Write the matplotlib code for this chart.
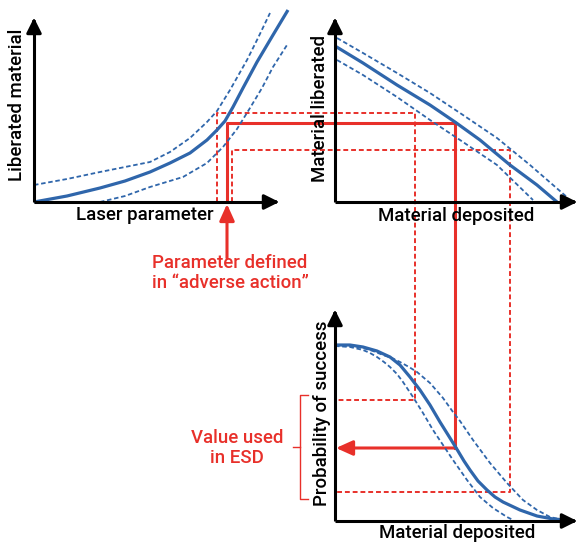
import numpy as np
import matplotlib
matplotlib.use("Agg")
import matplotlib.pyplot as plt

plt.rcParams['font.family'] = ['Roboto', 'DejaVu Sans']

BLUE = '#2f66ab'
RED = '#e8302a'

# curves in pixel coords (x, y down)
p1_mid_x = [34, 67, 100, 125, 150, 170, 190, 207, 217, 225, 233, 243, 257, 273, 288]
p1_mid_y = [202, 196, 188, 181, 172, 163, 153, 140, 130, 121, 107, 88, 62, 35, 10]
p1_up_x = [34, 67, 100, 125, 150, 170, 190, 207, 217, 230, 247, 258, 270]
p1_up_y = [185, 179, 172, 167, 162, 152, 138, 122, 111, 90, 60, 38, 13]
p1_lo_x = [100, 125, 150, 183, 207, 223, 237, 250, 262, 273, 287]
p1_lo_y = [202, 196, 187, 177, 163, 147, 129, 108, 88, 67, 45]

p2_mid_x = [335, 363, 397, 430, 455, 480, 510, 537, 557]
p2_mid_y = [46, 63, 85, 105, 122, 140, 165, 185, 202]
p2_up_x = [337, 363, 397, 430, 463, 497, 530, 568]
p2_up_y = [38, 53, 73, 93, 115, 138, 165, 198]
p2_lo_x = [337, 363, 397, 430, 463, 497, 533]
p2_lo_y = [60, 75, 97, 120, 142, 165, 200]

p3_mid_x = [335, 350, 363, 377, 390, 400, 410, 420, 430, 440, 450, 458, 464, 470, 478, 487, 495, 503, 520, 537, 553, 567]
p3_mid_y = [345, 345, 347, 351, 357, 365, 377, 390, 405, 422, 438, 451, 461, 470, 481, 490, 497, 502, 510, 516, 519, 520]
p3_up_x = [335, 350, 363, 373, 383, 392, 400, 409, 417, 430, 443, 453, 460, 473, 490, 507, 523, 537, 550, 563]
p3_up_y = [345, 346, 348, 351, 355, 358, 362, 367, 372, 383, 398, 412, 421, 440, 463, 483, 500, 510, 517, 520]
p3_lo_x = [335, 350, 363, 370, 377, 384, 390, 397, 403, 413, 423, 433, 443, 453, 467, 480, 493, 507, 513]
p3_lo_y = [346, 347, 350, 353, 357, 362, 367, 374, 382, 397, 413, 430, 445, 460, 480, 497, 508, 517, 520]

# red guide lines
param_x = [217, 227, 232]          # lower bound, value, upper bound
liberated_y = [113, 123, 150]
deposit_x = [415, 455, 510]
success_y = [400, 448, 492]

fig = plt.figure(figsize=(5.82, 5.44), dpi=100)
ax = fig.add_axes([0, 0, 1, 1])
ax.set_xlim(0, 582)
ax.set_ylim(544, 0)
ax.axis('off')

def axes_arrows(x0, y0, ytop, xright):
    ax.plot([x0, x0], [y0, ytop + 10], color='black', lw=2.2, solid_capstyle='butt', zorder=5)
    ax.plot([x0, xright - 10], [y0, y0], color='black', lw=2.2, solid_capstyle='butt', zorder=5)
    ax.annotate('', xy=(x0, ytop), xytext=(x0, ytop + 12),
                arrowprops=dict(arrowstyle='-|>,head_length=0.9,head_width=0.45', color='black', lw=2.2), zorder=6)
    ax.annotate('', xy=(xright, y0), xytext=(xright - 12, y0),
                arrowprops=dict(arrowstyle='-|>,head_length=0.9,head_width=0.45', color='black', lw=2.2), zorder=6)

# red lines (drawn below curves)
dash = dict(color=RED, lw=1.4, ls=(0, (2.5, 1.5)))
solid = dict(color=RED, lw=2.2)
ax.plot([param_x[0], param_x[0], deposit_x[0], deposit_x[0], 335],
        [202, liberated_y[0], liberated_y[0], success_y[0], success_y[0]], **dash)
ax.plot([param_x[2], param_x[2], deposit_x[2], deposit_x[2], 335],
        [202, liberated_y[2], liberated_y[2], success_y[2], success_y[2]], **dash)
ax.plot([param_x[1], param_x[1], deposit_x[1], deposit_x[1]],
        [202, liberated_y[1], liberated_y[1], success_y[1]], **solid)
ax.annotate('', xy=(336, success_y[1]), xytext=(deposit_x[1] + 1, success_y[1]),
            arrowprops=dict(arrowstyle='-|>,head_length=1.0,head_width=0.45', color=RED, lw=2.2,
                            shrinkA=0, shrinkB=0))
ax.annotate('', xy=(param_x[1], 204), xytext=(param_x[1], 258),
            arrowprops=dict(arrowstyle='-|>,head_length=1.0,head_width=0.45', color=RED, lw=2.2,
                            shrinkA=0, shrinkB=0))

# bracket
ax.plot([308, 300, 300, 308], [395, 395, 499, 499], color=RED, lw=1.0)
ax.plot([293, 300], [447, 447], color=RED, lw=1.0)

# curves
for mx, my, ux, uy, lx, ly in [(p1_mid_x, p1_mid_y, p1_up_x, p1_up_y, p1_lo_x, p1_lo_y),
                               (p2_mid_x, p2_mid_y, p2_up_x, p2_up_y, p2_lo_x, p2_lo_y),
                               (p3_mid_x, p3_mid_y, p3_up_x, p3_up_y, p3_lo_x, p3_lo_y)]:
    ax.plot(mx, my, color=BLUE, lw=2.3, zorder=4, solid_capstyle='butt', solid_joinstyle='round')
    ax.plot(ux, uy, color=BLUE, lw=1.3, ls=(0, (2.5, 1.5)), zorder=4)
    ax.plot(lx, ly, color=BLUE, lw=1.3, ls=(0, (2.5, 1.5)), zorder=4)

axes_arrows(34, 202, 15, 282)
axes_arrows(335, 202, 15, 580)
axes_arrows(335, 521, 307, 580)

fs = 13.4
tkw = dict(fontsize=fs, fontweight='medium')
ax.text(145, 215, 'Laser parameter', ha='center', va='center', zorder=7, **tkw)
ax.text(17, 105, 'Liberated material', ha='center', va='center', rotation=90, **tkw)
ax.text(456, 216, 'Material deposited', ha='center', va='center', **tkw)
ax.text(320, 108, 'Material liberated', ha='center', va='center', rotation=90, **tkw)
ax.text(457, 533, 'Material deposited', ha='center', va='center', **tkw)
ax.text(322, 413, 'Probability of success', ha='center', va='center', rotation=90, **tkw)

ax.text(230, 273, 'Parameter defined\nin \u201cadverse action\u201d', ha='center', va='center',
        color=RED, linespacing=1.1, **tkw)
ax.text(237, 448, 'Value used\nin ESD', ha='center', va='center', color=RED, linespacing=1.1, **tkw)

fig.savefig('out.png', dpi=100)
